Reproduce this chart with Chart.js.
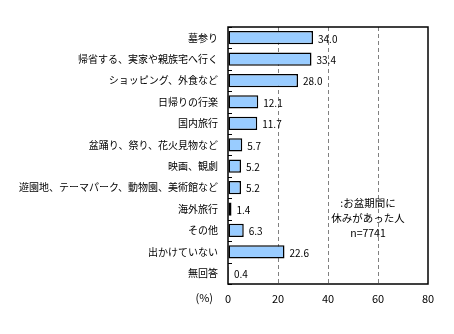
<!DOCTYPE html>
<html>
<head>
<meta charset="utf-8">
<script src="https://cdn.jsdelivr.net/npm/chart.js@4"></script>
<style>
  body { margin: 0; background: #fff; }
  .chart-wrap { width: 454px; height: 334px; }
</style>
</head>
<body>
<div class="chart-wrap"><canvas id="myChart" width="454" height="334"></canvas></div>
<script>
const categories = [
  '墓参り',
  '帰省する、実家や親族宅へ行く',
  'ショッピング、外食など',
  '日帰りの行楽',
  '国内旅行',
  '盆踊り、祭り、花火見物など',
  '映画、観劇',
  '遊園地、テーマパーク、動物園、美術館など',
  '海外旅行',
  'その他',
  '出かけていない',
  '無回答'
];
const percentValues = [34.0, 33.4, 28.0, 12.1, 11.7, 5.7, 5.2, 5.2, 1.4, 6.3, 22.6, 0.4];
const xTicks = [0, 20, 40, 60, 80];
const noteLines = [':お盆期間に', '休みがあった人', 'n=7741'];
const unitLabel = '(%)';

const FONT = "'Noto Sans CJK JP', 'DejaVu Sans', sans-serif";

// value labels at bar ends, small ticks on the category axis, notes
const extrasPlugin = {
  id: 'extras',
  afterDatasetsDraw(chart) {
    const { ctx, chartArea } = chart;
    const meta = chart.getDatasetMeta(0);
    const yScale = chart.scales.y;
    const xScale = chart.scales.x;
    ctx.save();

    // category boundary ticks (inside the axis)
    ctx.strokeStyle = '#000';
    ctx.lineWidth = 1;
    const step = yScale.getPixelForValue(1) - yScale.getPixelForValue(0);
    for (let i = 0; i <= categories.length; i++) {
      const y = Math.round(yScale.getPixelForValue(i) - step / 2) + 0.5;
      ctx.beginPath();
      ctx.moveTo(chartArea.left, y);
      ctx.lineTo(chartArea.left + 4, y);
      ctx.stroke();
    }

    // values
    ctx.fillStyle = '#000';
    ctx.font = '10px ' + FONT;
    ctx.textAlign = 'left';
    ctx.textBaseline = 'middle';
    meta.data.forEach((bar, i) => {
      ctx.fillText(percentValues[i].toFixed(1), bar.x + 5, bar.y + 1);
    });

    // note
    ctx.font = '10.5px ' + FONT;
    ctx.textAlign = 'center';
    const cx = xScale.getPixelForValue(56);
    noteLines.forEach((t, i) => {
      ctx.fillText(t, cx, 203 + i * 15);
    });

    // unit
    ctx.font = '11px ' + FONT;
    ctx.textAlign = 'right';
    ctx.fillText(unitLabel, chartArea.left - 15, 298);
    ctx.restore();
  }
};

new Chart('myChart', {
  type: 'bar',
  data: {
    labels: categories,
    datasets: [{
      data: percentValues,
      backgroundColor: '#99CCFF',
      borderColor: '#000',
      borderWidth: 1.5,
      borderSkipped: false,
      categoryPercentage: 0.62,
      barPercentage: 1.0
    }]
  },
  options: {
    indexAxis: 'y',
    responsive: false,
    animation: false,
    layout: { padding: { top: 27, right: 26, left: 0, bottom: 0 } },
    plugins: {
      legend: { display: false },
      tooltip: { enabled: false }
    },
    scales: {
      x: {
        min: 0,
        max: 80,
        afterBuildTicks: (scale) => { scale.ticks = xTicks.map(v => ({ value: v })); },
        afterFit: (scale) => { scale.height = 50; },
        grid: {
          color: (c) => (c.tick && (c.tick.value === 0 || c.tick.value === 80)) ? 'rgba(0,0,0,0)' : '#808080',
          lineWidth: 1,
          drawTicks: false
        },
        border: { display: false, dash: [4, 3] },
        ticks: {
          color: '#000',
          font: { family: FONT, size: 11 },
          padding: 8,
          maxRotation: 0
        }
      },
      y: {
        afterFit: (scale) => { scale.width = 228; },
        grid: { display: false, drawTicks: false },
        border: { display: false },
        ticks: {
          color: '#000',
          font: { family: FONT, size: 10 },
          padding: 10,
          autoSkip: false
        }
      }
    }
  },
  plugins: [extrasPlugin, {
    id: 'frame',
    beforeDatasetsDraw(chart) {
      const { ctx, chartArea: a } = chart;
      ctx.save();
      ctx.strokeStyle = '#000';
      ctx.lineWidth = 1.5;
      ctx.strokeRect(a.left, a.top, a.right - a.left, a.bottom - a.top);
      ctx.restore();
    }
  }]
});
</script>
</body>
</html>
